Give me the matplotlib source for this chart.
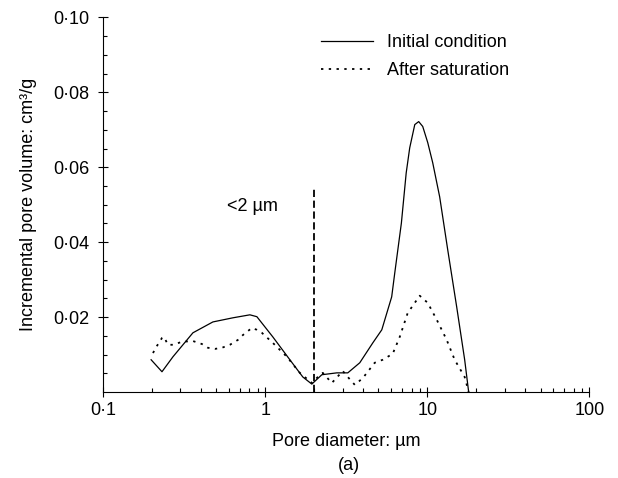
import numpy as np
import matplotlib.pyplot as plt

plt.rcParams['font.family'] = ['Liberation Sans', 'DejaVu Sans']
plt.rcParams['font.size'] = 13

# Initial condition (solid)
d_init = [0.198, 0.231, 0.270, 0.3585, 0.476, 0.632, 0.805, 0.889, 1.115, 1.420,
          1.707, 1.940, 2.236, 2.766, 3.233, 3.833, 4.61, 5.24, 6.03, 6.30,
          6.92, 7.41, 7.79, 8.37, 8.85, 9.37, 10.06, 10.8, 11.92, 13.36,
          15.18, 17.0, 17.99]
v_init = [0.0086, 0.0054, 0.0094, 0.0158, 0.0187, 0.0198, 0.0206, 0.0201, 0.0147, 0.0086,
          0.0040, 0.0021, 0.0046, 0.0051, 0.0051, 0.0078, 0.0131, 0.0166, 0.0254, 0.0318,
          0.0451, 0.0585, 0.0652, 0.0714, 0.0722, 0.0709, 0.0666, 0.0612, 0.0521, 0.0380,
          0.0227, 0.0086, 0.0]

# After saturation (dotted)
d_sat = [0.2033, 0.2151, 0.2309, 0.2376, 0.2515, 0.270, 0.3068, 0.3585, 0.4074, 0.4436,
         0.490, 0.541, 0.606, 0.679, 0.729, 0.828, 0.889, 0.954, 1.115, 1.361,
         1.636, 1.940, 2.112, 2.268, 2.576, 3.011, 3.233, 3.571, 4.0, 4.29,
         4.74, 5.31, 6.12, 6.76, 7.57, 8.98, 10.06, 11.43, 13.17, 14.75,
         17.0, 17.99]
v_sat = [0.0104, 0.0123, 0.0144, 0.0147, 0.0126, 0.0126, 0.0134, 0.0136, 0.0128, 0.0118,
         0.0115, 0.0118, 0.0126, 0.0139, 0.0152, 0.0171, 0.0166, 0.0158, 0.0131, 0.0094,
         0.0051, 0.0024, 0.0040, 0.0051, 0.0024, 0.0056, 0.0040, 0.0019, 0.0037, 0.0054,
         0.0078, 0.0086, 0.0102, 0.0147, 0.0211, 0.0257, 0.0238, 0.0193, 0.0139, 0.0086,
         0.0040, 0.0]

cutoff = 2.0
cutoff_top = 0.0545

xticks = [0.1, 1, 10, 100]
xticklabels = ['0\u00b71', '1', '10', '100']
yticks = [0.02, 0.04, 0.06, 0.08, 0.10]
yticklabels = ['0\u00b702', '0\u00b704', '0\u00b706', '0\u00b708', '0\u00b710']

fig = plt.figure(figsize=(6.18, 4.78), dpi=100)
ax = fig.add_axes([0.1667, 0.18, 0.7871, 0.7834])

ax.plot(d_init, v_init, color='k', lw=0.9, label='Initial condition')
ax.plot(d_sat, v_sat, color='k', lw=1.3, linestyle=(0, (1.3, 3.0)), label='After saturation')
ax.plot([cutoff, cutoff], [0, cutoff_top], color='k', lw=1.3, linestyle=(0, (4, 2)))
ax.text(0.58, 0.0495, '<2 \u00b5m', va='center', ha='left')

ax.set_xscale('log')
ax.set_xlim(0.1, 100)
ax.set_ylim(0, 0.10)
ax.set_xticks(xticks)
ax.set_xticklabels(xticklabels)
ax.set_yticks(yticks)
ax.set_yticklabels(yticklabels)
ax.set_yticks(np.arange(0.005, 0.1, 0.005), minor=True)

ax.spines['top'].set_visible(False)
ax.spines['right'].set_visible(False)
for s in ['left', 'bottom']:
    ax.spines[s].set_linewidth(0.8)

ax.tick_params(which='major', direction='inout', length=7, width=0.8, pad=6)
ax.tick_params(which='minor', direction='in', length=3, width=0.8)
ax.tick_params(axis='x', which='major', pad=4)

ax.set_xlabel('Pore diameter: \u00b5m', labelpad=10)
ax.set_ylabel('Incremental pore volume: cm\u00b3/g', labelpad=12)

ax.legend(loc='upper left', bbox_to_anchor=(0.448, 0.956), frameon=False,
          borderpad=0, borderaxespad=0, handlelength=2.9, handletextpad=0.78,
          labelspacing=0.63)

fig.text(0.565, 0.008, '(a)', ha='center', va='bottom')

fig.savefig('out.png', dpi=100)
